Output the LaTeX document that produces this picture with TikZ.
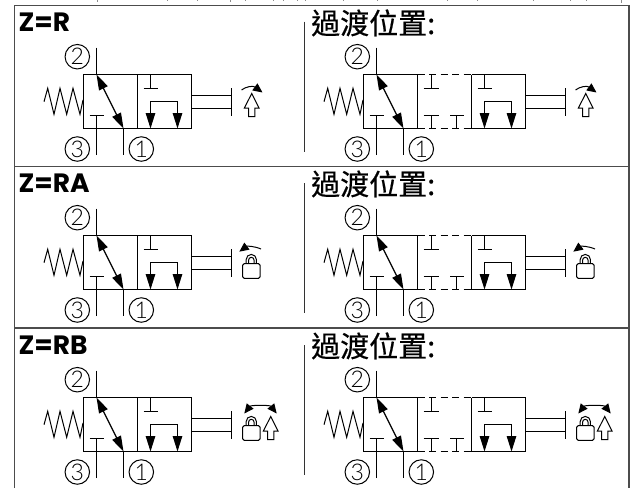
\documentclass[tikz,border=0pt]{standalone}
\usepackage{fontspec}
\setmainfont{Poppins}
\newfontfamily\cjk[FakeBold=0.5]{Noto Sans CJK TC}
\newfontfamily\numfont{Lato Light}[Scale=1]
\usetikzlibrary{arrows.meta}
\tikzset{
 x=1pt,y=-1pt,
 sym/.style={line width=1.15pt,black,line join=miter},
 frameline/.style={line width=1.7pt,color=black!70},
 midline/.style={line width=1.3pt,color=black!80},
 circ/.style={draw,circle,line width=1pt,minimum size=24.5pt,inner sep=0pt,font=\fontsize{23}{23}\selectfont\numfont},
 head/.style={-{Triangle[length=15.5pt,width=9.5pt]}},
 dhead/.style={{Triangle[length=15.5pt,width=9.5pt]}-{Triangle[length=15.5pt,width=9.5pt]}},
 small/.style={-{Triangle[length=9.5pt,width=8.5pt]},line width=1pt},
 title/.style={anchor=base west,inner sep=0pt,font=\fontsize{26.5}{28}\selectfont\bfseries},
 ctitle/.style={anchor=base west,inner sep=0pt,font=\fontsize{29}{30}\selectfont\cjk},
}
% first cell, spring, ports and labels; #1 = name suffix
\newcommand{\firstcell}[1]{
 \draw[sym,line width=1pt] (44,101.7)--(47.7,88.3)--(54,114.3)--(60,88.3)--(66.7,114.3)--(73,88.3)--(80,114.3)--(83,100);
 \draw[sym] (96.5,47.5)--(96.5,74.5);
 \draw[sym] (123.5,128.5)--(123.5,155);
 \draw[sym] (96.5,155)--(96.5,115.5) (89.5,115.5)--(103.5,115.5);
 \draw[sym,dhead] (96.5,74.5)--(123.5,128.5);
 \node[circ] (two#1) at (77.3,56.7) {2};
 \node[circ] (three#1) at (77.3,149) {3};
 \node[circ] (one#1) at (141.3,149) {1};
}
% last cell + rod; drawn in local coordinates
\newcommand{\lastcell}{
 \draw[sym] (137.5,74.5)--(191.5,74.5)--(191.5,128.5)--(137.5,128.5);
 \draw[sym] (137.5,74.5)--(137.5,128.5);
 \draw[sym] (150.5,74.5)--(150.5,88.5) (143.5,88.5)--(157.5,88.5);
 \draw[sym] (150.5,114)--(150.5,101.5)--(177.5,101.5)--(177.5,114);
 \draw[sym,head] (150.5,112.5)--(150.5,128.5);
 \draw[sym,head] (177.5,112.5)--(177.5,128.5);
 \draw[sym] (191.5,95.5)--(231.5,95.5) (191.5,108.5)--(231.5,108.5) (231.5,88)--(231.5,115.5);
}
\newcommand{\upsym}[1]{% #1 = x of arrow tip
 \draw[line width=1pt,fill=white] (#1,93.5)--(#1+7.3,108)--(#1+3.2,108)--(#1+3.2,116.7)--(#1-3.2,116.7)--(#1-3.2,108)--(#1-7.3,108)--cycle;
}
\newcommand{\locksym}{
 \draw[line width=1pt,rounded corners=1.5pt] (242.7,102.7) rectangle (260,117.3);
 \draw[line width=1pt] (246.2,102.7)--(246.2,98.5) arc[start angle=180,end angle=360,radius=5.1]--(256.4,102.7);
 \draw[line width=1pt] (248.6,102.7)--(248.6,99) arc[start angle=180,end angle=360,radius=2.7]--(254,102.7);
}
\newcommand{\arcR}{\draw[small] (241.5,90) .. controls (246,86.5) and (253,85.5) .. (262.5,92.5);}
\newcommand{\arcL}{\draw[small] (261,88) .. controls (254,85) and (247,85) .. (239.3,90.7);}
\newcommand{\arcB}{\draw[small,{Triangle[length=9.5pt,width=8.5pt]}-{Triangle[length=9.5pt,width=8.5pt]}] (244.3,90.5) .. controls (251,82) and (270,82) .. (276.7,90.5);}
% full row: #1 suffix, #2 y-shift, #3 symbol code
\newcommand{\valverow}[3]{
 \begin{scope}[shift={(0,#2)}]
  % left valve
  \draw[sym] (83.5,74.5) rectangle (137.5,128.5);
  \firstcell{l#1}
  \lastcell
  #3
  % right valve
  \begin{scope}[shift={(280,0)}]
   \draw[sym] (83.5,74.5) rectangle (137.5,128.5);
   \firstcell{r#1}
   \draw[sym,dash pattern=on 7pt off 4.5pt] (137.5,74.5)--(191.5,74.5) (137.5,128.5)--(191.5,128.5);
   \draw[sym] (151.5,74.5)--(151.5,88.5) (143.5,88.5)--(158.5,88.5);
   \draw[sym] (151.5,128.5)--(151.5,115.5) (143.5,115.5)--(158.5,115.5);
   \draw[sym] (176.5,128.5)--(176.5,115.5) (170,115.5)--(184,115.5);
  \end{scope}
  \begin{scope}[shift={(334,0)}]
   \lastcell
   #3
  \end{scope}
 \end{scope}
}
\begin{document}
\begin{tikzpicture}
\useasboundingbox (0,0) rectangle (634,488);
\fill[white] (0,0) rectangle (634,488);
% cropped line of text along the upper edge
\draw[line width=1pt,color=black!45]
 (97,0)--(97,1.8) (167,0)--(167,1.2) (197,0)--(197,1.2) (230,0)--(230,2) (245,0)--(245,1.2) (273,0)--(273,1.2) (283,0)--(283,1.2) (297,0)--(297,1.2)
 (305,0)--(305,1.2) (343,0)--(343,1.2) (377,0)--(377,1.2) (447,0)--(447,1.2) (477,0)--(477,1.2) (533,0)--(533,1.2) (570,0)--(570,1.2) (586,0)--(586,1.2) (621,0)--(621,2.5);
% table frame
\draw[frameline] (14.5,488)--(14.5,5.5)--(629,5.5)--(629,488);
\draw[frameline] (14.5,166.5)--(629,166.5) (14.5,328)--(629,328);
\draw[midline] (304.7,21.7)--(304.7,152) (304.7,183)--(304.7,313) (304.7,345)--(304.7,475);
% headings
\node[title] (zr) at (18.5,31.7) {Z=R};
\node[title] (zra) at (18.5,192.7) {Z=RA};
\node[title] (zrb) at (18.5,354.7) {Z=RB};
\node[ctitle] (t1) at (311,34) {過渡位置:};
\node[ctitle] (t2) at (311,195) {過渡位置:};
\node[ctitle] (t3) at (311,357) {過渡位置:};
% rows
\valverow{a}{0}{\upsym{251.7}\arcR}
\valverow{b}{161}{\locksym\arcL}
\valverow{c}{323}{\locksym\upsym{270.7}\arcB}
\end{tikzpicture}
\end{document}
